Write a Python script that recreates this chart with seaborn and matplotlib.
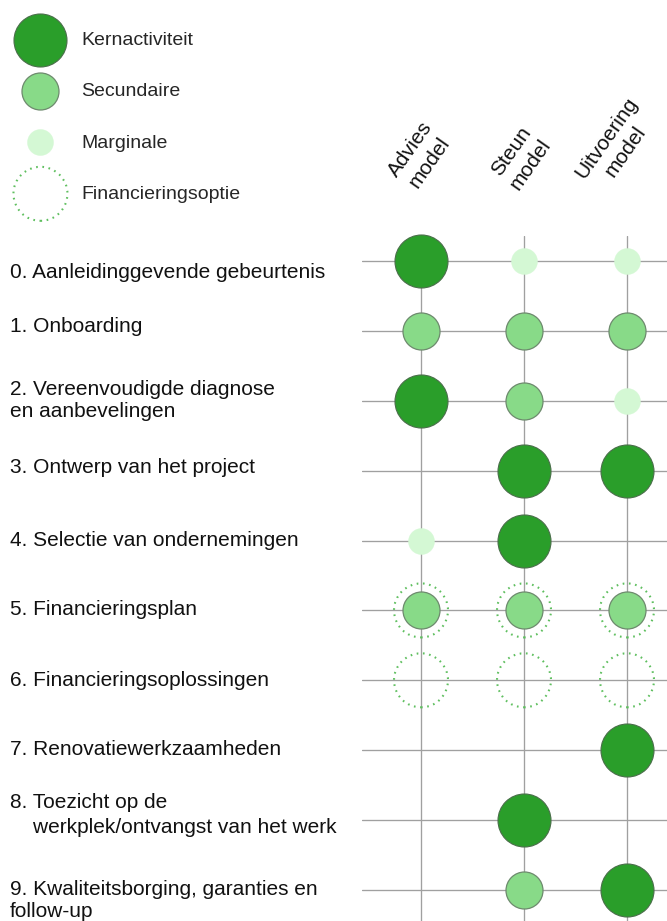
import matplotlib
matplotlib.use("Agg")
import matplotlib.pyplot as plt
import seaborn as sns
import pandas as pd
from matplotlib.transforms import blended_transform_factory

# ---------------- data ----------------
activities = [
    "0. Aanleidinggevende gebeurtenis",
    "1. Onboarding",
    "2. Vereenvoudigde diagnose\nen aanbevelingen",
    "3. Ontwerp van het project",
    "4. Selectie van ondernemingen",
    "5. Financieringsplan",
    "6. Financieringsoplossingen",
    "7. Renovatiewerkzaamheden",
    "8. Toezicht op de\n    werkplek/ontvangst van het werk",
    "9. Kwaliteitsborging, garanties en\nfollow-up",
]
models = ["Advies\nmodel", "Steun\nmodel", "Uitvoering\nmodel"]

K, S, M = "Kernactiviteit", "Secundaire", "Marginale"
FIN = "Financieringsoptie"
advies_levels = [K, S, K, None, M, S, None, None, None, None]
steun_levels = [M, S, S, K, K, S, None, None, K, S]
uitvoering_levels = [M, S, M, K, None, S, None, K, None, K]
financiering = [0, 0, 0, 0, 0, 1, 1, 0, 0, 0]

# ---------------- build table ----------------
records = []
for mi, levels in enumerate([advies_levels, steun_levels, uitvoering_levels]):
    for ai, lev in enumerate(levels):
        records.append({"model": mi, "activity": ai, "level": lev,
                        "fin": bool(financiering[ai])})
df = pd.DataFrame(records)

# ---------------- style ----------------
sns.set_theme(style="white")
plt.rcParams["font.family"] = ["Liberation Sans", "DejaVu Sans"]

W, H = 667, 921
GRID = "#a0a0a0"


def s_from_radius(r_px):
    d_pt = 2 * r_px * 0.72
    return d_pt * d_pt


level_style = {
    K: dict(r=26.5, fc="#2a9e2a", ec="#4a6e4a", lw=0.8),
    S: dict(r=18.5, fc="#88da88", ec="#6d8a6d", lw=0.9),
    M: dict(r=13.0, fc="#d4f8d4", ec="#d4f8d4", lw=0.3),
}
RING = "#5fbf5f"
RING_LS = (0, (0.8, 2.2))

fig = plt.figure(figsize=(W / 100, H / 100), dpi=100)
ax = fig.add_axes([362 / W, 0, (W - 362) / W, (H - 236) / H])
colsp, rowsp = 103.0, 69.9
ax.set_xlim(-(421 - 362) / colsp, 2 + (W - 627) / colsp)
ax.set_ylim(9 + (H - 890) / rowsp, -(261 - 236) / rowsp)
ax.axis("off")

for i in range(len(models)):
    ax.axvline(i, color=GRID, lw=0.95, zorder=1)
for j in range(len(activities)):
    ax.axhline(j, color=GRID, lw=0.95, zorder=1)

# financing rings
sub = df[df["fin"]]
sns.scatterplot(data=sub, x="model", y="activity", ax=ax, legend=False,
                s=s_from_radius(27), facecolor="none", edgecolor=RING,
                linewidth=1.5, linestyle=RING_LS, zorder=2, clip_on=False)

for lev in [K, S, M]:
    st = level_style[lev]
    sub = df[df["level"] == lev]
    sns.scatterplot(data=sub, x="model", y="activity", ax=ax, legend=False,
                    s=s_from_radius(st["r"]), color=st["fc"],
                    edgecolor=st["ec"], linewidth=st["lw"], zorder=3,
                    label=lev, clip_on=False)

# row labels
trans = blended_transform_factory(fig.transFigure, ax.transData)
label_nudge = [12, -4, 0, -3, 0, -1, 0, -1, -5, 10]
line_sp = [1.2, 1.2, 1.2, 1.2, 1.2, 1.2, 1.2, 1.2, 1.45, 1.2]
for j, lab in enumerate(activities):
    ax.text(10 / W, j + label_nudge[j] / rowsp, lab, transform=trans,
            ha="left", va="center", fontsize=15, color="#111111",
            linespacing=line_sp[j])

# column headers
head_pos = [(420, 156), (521, 158), (616, 145)]
for i, m in enumerate(models):
    x, y = head_pos[i]
    fig.text(x / W, 1 - y / H, m, rotation=55, ha="center", va="center",
             multialignment="center", fontsize=15, color="#111111",
             linespacing=1.3)

# legend
handles, labels = ax.get_legend_handles_labels()
hmap = dict(zip(labels, handles))
leg_handles = [hmap[k] for k in [K, S, M]]
ring_handle = ax.scatter([], [], s=s_from_radius(27), facecolor="none",
                         edgecolor=RING, linewidth=1.5, linestyle=RING_LS)
leg_handles.append(ring_handle)
fig.legend(leg_handles, [K, S, M, FIN], loc="upper left",
           bbox_to_anchor=(21 / W, 1 - 31 / H), frameon=False,
           fontsize=14, scatterpoints=1, handlelength=2.0,
           handletextpad=1.1, labelspacing=1.74, borderpad=0,
           borderaxespad=0)

fig.savefig("out.png", dpi=100)
